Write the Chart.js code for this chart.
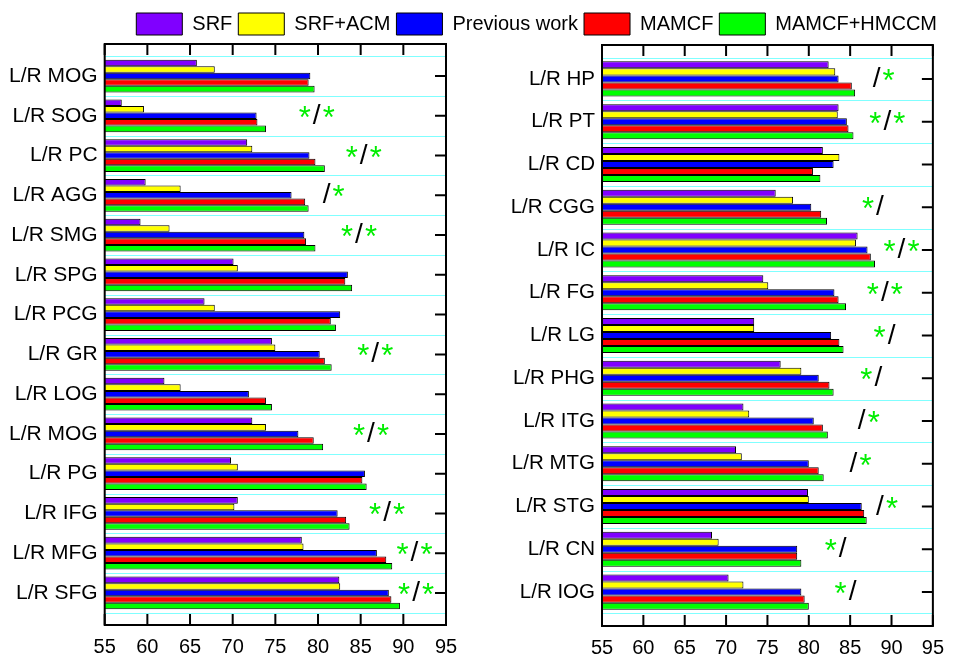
<!DOCTYPE html>
<html>
<head>
<meta charset="utf-8">
<script src="https://cdn.jsdelivr.net/npm/chart.js@4"></script>
<style>
  body { margin: 0; background: #fff; }
  #wrap { position: relative; width: 954px; height: 656px; }
  #wrap canvas { position: absolute; left: 0; top: 0; }
</style>
</head>
<body>
<div id="wrap">
  <canvas id="leftChart" width="954" height="656"></canvas>
  <canvas id="rightChart" width="954" height="656"></canvas>
</div>
<script>
const seriesNames = ['SRF', 'SRF+ACM', 'Previous work', 'MAMCF', 'MAMCF+HMCCM'];
const seriesColors = ['#8000ff', '#ffff00', '#0000ff', '#ff0000', '#00ff00'];
const xTicks = [55, 60, 65, 70, 75, 80, 85, 90, 95];

// panel izquierdo
const leftCats = ['L/R MOG', 'L/R SOG', 'L/R PC', 'L/R AGG', 'L/R SMG', 'L/R SPG', 'L/R PCG',
                  'L/R GR', 'L/R LOG', 'L/R MOG', 'L/R PG', 'L/R IFG', 'L/R MFG', 'L/R SFG'];
const leftSRF   = [65.8, 57.0, 71.7, 59.8, 59.2, 70.1, 66.7, 74.6, 62.0, 72.3, 69.8, 70.6, 78.1, 82.5];
const leftACM   = [67.9, 59.6, 72.3, 63.9, 62.6, 70.6, 67.9, 75.0, 63.9, 73.9, 70.6, 70.2, 78.3, 82.6];
const leftPrev  = [79.1, 72.8, 79.0, 76.9, 78.4, 83.5, 82.6, 80.2, 71.9, 77.7, 85.5, 82.3, 86.9, 88.3];
const leftMAMCF = [78.9, 72.9, 79.7, 78.5, 78.6, 83.2, 81.5, 80.8, 73.9, 79.5, 85.2, 83.3, 88.0, 88.6];
const leftHMCCM = [79.6, 73.9, 80.8, 78.9, 79.7, 84.0, 82.1, 81.6, 74.6, 80.6, 85.7, 83.7, 88.7, 89.6];
const leftMarks = ['', '*/*', '*/*', '/*', '*/*', '', '', '*/*', '', '*/*', '', '*/*', '*/*', '*/*'];
const leftMarkX = [null, 79.85, 85.35, 81.0, 84.8, null, null, 86.7, null, 86.2, null, 88.1, 91.3, 91.5];

// panel derecho
const rightCats = ['L/R HP', 'L/R PT', 'L/R CD', 'L/R CGG', 'L/R IC', 'L/R FG', 'L/R LG',
                   'L/R PHG', 'L/R ITG', 'L/R MTG', 'L/R STG', 'L/R CN', 'L/R IOG'];
const rightSRF   = [82.4, 83.6, 81.7, 76.0, 85.9, 74.5, 73.4, 76.6, 72.1, 71.2, 79.9, 68.3, 70.3];
const rightACM   = [83.2, 83.5, 83.7, 78.1, 85.7, 75.1, 73.4, 79.1, 72.8, 71.9, 80.0, 69.1, 72.1];
const rightPrev  = [83.6, 84.6, 83.0, 80.3, 87.1, 83.1, 82.7, 81.2, 80.6, 80.0, 86.4, 78.6, 79.1];
const rightMAMCF = [85.2, 84.8, 80.5, 81.5, 87.5, 83.6, 83.7, 82.5, 81.7, 81.2, 86.7, 78.6, 79.5];
const rightHMCCM = [85.6, 85.4, 81.4, 82.2, 88.0, 84.5, 84.2, 83.0, 82.3, 81.8, 87.0, 79.1, 80.0];
const rightMarks = ['/*', '*/*', '', '*/', '*/*', '*/*', '*/', '*/', '/*', '/*', '/*', '*/', '*/'];
const rightMarkX = [88.2, 89.5, null, 88.6, 91.2, 89.2, 90.0, 88.4, 86.4, 85.4, 88.6, 84.1, 85.3];

Chart.defaults.font.family = '"Liberation Sans", Arial, sans-serif';
Chart.defaults.color = '#000';

function textoCentrado(ctx, txt, x, y, color, size) {
    ctx.font = size + 'px "Liberation Sans", Arial, sans-serif';
    ctx.fillStyle = color;
    ctx.textAlign = 'center';
    ctx.textBaseline = 'alphabetic';
    const m = ctx.measureText(txt);
    ctx.fillText(txt, x, y + (m.actualBoundingBoxAscent - m.actualBoundingBoxDescent) / 2);
}

// marco estilo Origin, lineas cian y marcas de significancia
function pluginOrigin(n, marks, markX) {
    return {
        id: 'origin',
        beforeDatasetsDraw(chart) {
            const {ctx, chartArea: a, scales: {y}} = chart;
            ctx.save();
            ctx.strokeStyle = '#80ffff';
            ctx.lineWidth = 1;
            for (let i = 0; i <= n; i++) {
                const py = Math.round(y.getPixelForValue(i - 0.5)) + 0.5;
                ctx.beginPath();
                ctx.moveTo(a.left, py);
                ctx.lineTo(a.right, py);
                ctx.stroke();
            }
            ctx.restore();
        },
        afterDatasetsDraw(chart) {
            const {ctx, chartArea: a, scales: {x, y}} = chart;
            const tl = 11;
            ctx.save();
            ctx.strokeStyle = '#000';
            ctx.lineWidth = 2;
            ctx.strokeRect(a.left, a.top, a.right - a.left, a.bottom - a.top);
            ctx.beginPath();
            x.ticks.forEach(t => {
                const px = x.getPixelForValue(t.value);
                ctx.moveTo(px, a.top); ctx.lineTo(px, a.top + tl);
                ctx.moveTo(px, a.bottom); ctx.lineTo(px, a.bottom - tl);
            });
            y.ticks.forEach(t => {
                const py = y.getPixelForValue(t.value);
                ctx.moveTo(a.right, py); ctx.lineTo(a.right - tl, py);
            });
            ctx.stroke();

            marks.forEach((m, i) => {
                if (!m) return;
                const px = x.getPixelForValue(markX[i]);
                const py = y.getPixelForValue(i);
                textoCentrado(ctx, '/', px, py - 2, '#000', 28);
                if (m[0] === '*') textoCentrado(ctx, '*', px - 12, py - 4, '#00ee00', 31);
                if (m[m.length - 1] === '*') textoCentrado(ctx, '*', px + 12, py - 4, '#00ee00', 31);
            });
            ctx.restore();
        }
    };
}

function crearGrafico(id, cats, series, marks, markX, cfg) {
    const pad = cfg.pad;
    const datasets = series.map((vals, k) => ({
        label: seriesNames[k],
        data: vals.map((v, i) => ({x: v, y: i})),
        backgroundColor: seriesColors[k],
        borderColor: '#000',
        borderWidth: 1,
        categoryPercentage: 0.82,
        barPercentage: 1
    }));

    return new Chart(document.getElementById(id), {
        type: 'bar',
        data: { datasets: datasets },
        plugins: [pluginOrigin(cats.length, marks, markX)],
        options: {
            indexAxis: 'y',
            responsive: false,
            animation: false,
            layout: { padding: cfg.padding },
            plugins: {
                tooltip: { enabled: false },
                legend: {
                    display: cfg.legend,
                    position: 'top',
                    align: 'end',
                    labels: { boxWidth: 46, boxHeight: 22, padding: 6, font: { size: 20 } }
                }
            },
            scales: {
                x: {
                    type: 'linear',
                    min: 55,
                    max: 95,
                    afterBuildTicks: s => { s.ticks = xTicks.map(v => ({ value: v })); },
                    afterFit: s => { s.height = cfg.xHeight; },
                    grid: { display: false, drawTicks: false },
                    border: { display: false },
                    ticks: { padding: 10, font: { size: 20 } }
                },
                y: {
                    type: 'linear',
                    reverse: true,
                    min: -pad,
                    max: cats.length - 1 + pad,
                    afterBuildTicks: s => { s.ticks = cats.map((c, i) => ({ value: i })); },
                    afterFit: s => { s.width = cfg.yWidth; },
                    grid: { display: false, drawTicks: false },
                    border: { display: false },
                    ticks: { autoSkip: false, padding: 7, font: { size: cfg.labelSize },
                             callback: v => cats[v] }
                }
            }
        }
    });
}

crearGrafico('leftChart', leftCats,
    [leftSRF, leftACM, leftPrev, leftMAMCF, leftHMCCM], leftMarks, leftMarkX,
    { pad: 0.285, padding: { top: 44, right: 508, left: 0, bottom: 0 },
      legend: false, xHeight: 31, yWidth: 104.7, labelSize: 21 });

crearGrafico('rightChart', rightCats,
    [rightSRF, rightACM, rightPrev, rightMAMCF, rightHMCCM], rightMarks, rightMarkX,
    { pad: 0.27, padding: { top: 7, right: 11, left: 0, bottom: 0 },
      legend: true, xHeight: 30, yWidth: 602, labelSize: 20.5 });
</script>
</body>
</html>
